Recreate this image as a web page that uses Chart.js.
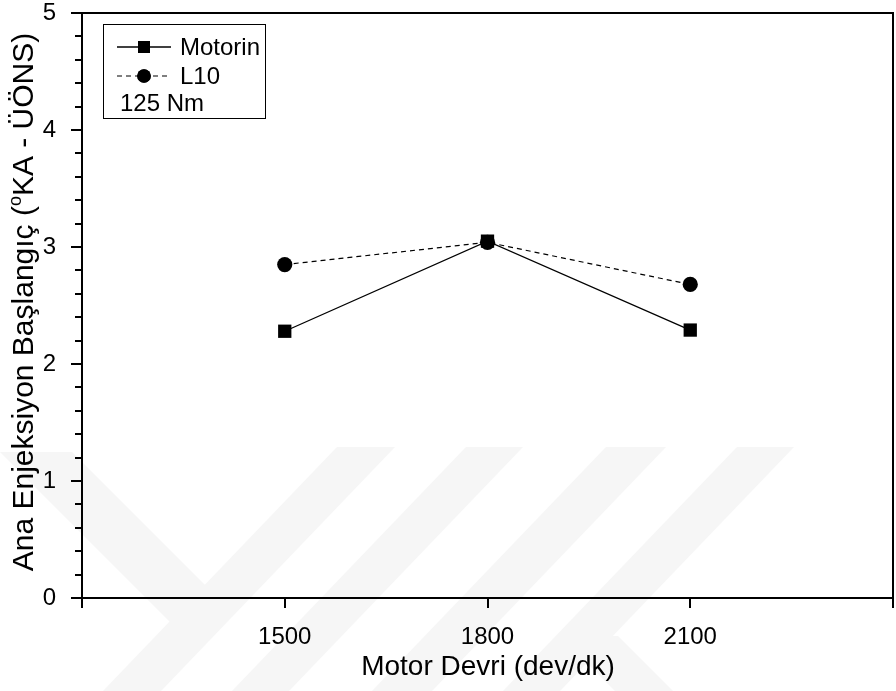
<!DOCTYPE html>
<html>
<head>
<meta charset="utf-8">
<script src="https://cdn.jsdelivr.net/npm/chart.js@4.4.1/dist/chart.umd.min.js"></script>
<style>
  html, body { margin: 0; padding: 0; background: #fff; }
  #wrap { width: 896px; height: 691px; }
</style>
</head>
<body>
<div id="wrap"><canvas id="enjeksiyon" width="896" height="691"></canvas></div>
<script>
// motor devri (dev/dk) ve ana enjeksiyon başlangıcı (°KA - ÜÖNS)
const devir = [1500, 1800, 2100];
const motorin = [2.28, 3.05, 2.29];
const l10 = [2.85, 3.04, 2.68];
const xEtiketleri = [1500, 1800, 2100];
const yEtiketleri = [0, 1, 2, 3, 4, 5];
const yukNotu = '125 Nm';

const FONT = '"Liberation Sans", Arial, sans-serif';

const noktalar = seri => devir.map((d, i) => ({ x: d, y: seri[i] }));

// arka plandaki soluk filigran şeritleri
const filigran = {
  id: 'filigran',
  beforeDraw(chart) {
    const ctx = chart.ctx;
    const sekiller = [
      [[0, 452], [72, 452], [205, 585], [199, 651]],
      [[337, 447], [395, 447], [161, 691], [103, 691]],
      [[466, 447], [523, 447], [289, 691], [232, 691]],
      [[606, 447], [666, 447], [432, 691], [372, 691]],
      [[737, 447], [794, 447], [560, 691], [503, 691]],
      [[560, 636], [618, 636], [673, 691], [615, 691]]
    ];
    ctx.save();
    ctx.fillStyle = '#fff';
    ctx.fillRect(0, 0, chart.width, chart.height);
    ctx.fillStyle = '#f6f6f6';
    sekiller.forEach(s => {
      ctx.beginPath();
      s.forEach(([px, py], i) => (i ? ctx.lineTo(px, py) : ctx.moveTo(px, py)));
      ctx.closePath();
      ctx.fill();
    });
    ctx.restore();
  }
};

// çerçeve, tik çizgileri, eksen başlıkları ve lejant kutusu
const cerceve = {
  id: 'cerceve',
  afterDraw(chart) {
    const { ctx, chartArea: a, scales: { x, y } } = chart;
    ctx.save();
    ctx.strokeStyle = '#000';
    ctx.lineWidth = 2;
    ctx.strokeRect(a.left, a.top, a.right - a.left, a.bottom - a.top);

    ctx.beginPath();
    y.ticks.forEach(t => {
      const py = Math.round(y.getPixelForValue(t.value));
      const ana = Math.abs(t.value - Math.round(t.value)) < 1e-6;
      ctx.moveTo(a.left, py);
      ctx.lineTo(a.left - (ana ? 11 : 7), py);
    });
    x.ticks.forEach(t => {
      const px = Math.round(x.getPixelForValue(t.value));
      ctx.moveTo(px, a.bottom);
      ctx.lineTo(px, a.bottom + 10);
    });
    ctx.stroke();

    // eksen başlıkları
    ctx.fillStyle = '#000';
    ctx.textAlign = 'center';
    ctx.textBaseline = 'middle';
    ctx.font = '28px ' + FONT;
    ctx.fillText('Motor Devri (dev/dk)', 488, 667);

    ctx.save();
    ctx.translate(22, 302);
    ctx.rotate(-Math.PI / 2);
    const b = 30;
    const parca1 = 'Ana Enjeksiyon Başlangıç (';
    const ust = 'o';
    const parca2 = 'KA - ÜÖNS)';
    ctx.font = b + 'px ' + FONT;
    const w1 = ctx.measureText(parca1).width;
    const w3 = ctx.measureText(parca2).width;
    ctx.font = Math.round(b * 0.6) + 'px ' + FONT;
    const w2 = ctx.measureText(ust).width;
    let sx = -(w1 + w2 + w3) / 2;
    ctx.textAlign = 'left';
    ctx.textBaseline = 'alphabetic';
    const taban = b * 0.36;
    ctx.font = b + 'px ' + FONT;
    ctx.fillText(parca1, sx, taban);
    sx += w1;
    ctx.font = Math.round(b * 0.6) + 'px ' + FONT;
    ctx.fillText(ust, sx, taban - b * 0.38);
    sx += w2;
    ctx.font = b + 'px ' + FONT;
    ctx.fillText(parca2, sx, taban);
    ctx.restore();

    // lejant
    ctx.lineWidth = 1;
    ctx.strokeRect(103.5, 24.5, 162, 94);
    ctx.font = '24px ' + FONT;
    ctx.textAlign = 'left';
    ctx.textBaseline = 'middle';
    chart.data.datasets.forEach((ds, i) => {
      const ly = 47 + i * 29;
      ctx.save();
      ctx.lineWidth = ds.borderWidth;
      ctx.setLineDash(ds.borderDash || []);
      ctx.beginPath();
      ctx.moveTo(117, ly);
      ctx.lineTo(171, ly);
      ctx.stroke();
      ctx.restore();
      ctx.fillStyle = '#000';
      Chart.helpers.drawPoint(ctx, { pointStyle: ds.pointStyle, radius: ds.pointRadius * 0.9, rotation: 0, borderWidth: 0 }, 144, ly);
      ctx.fill();
      ctx.fillText(ds.label, 180, ly + 1);
    });
    ctx.fillText(yukNotu, 120, 104);
    ctx.restore();
  }
};

new Chart(document.getElementById('enjeksiyon'), {
  type: 'line',
  data: {
    datasets: [
      {
        label: 'Motorin',
        data: noktalar(motorin),
        borderColor: '#000',
        backgroundColor: '#000',
        borderWidth: 1.3,
        pointStyle: 'rect',
        pointRadius: 9.4,
        pointBorderWidth: 0,
        tension: 0
      },
      {
        label: 'L10',
        data: noktalar(l10),
        borderColor: '#000',
        backgroundColor: '#000',
        borderWidth: 1.2,
        borderDash: [5, 4],
        pointStyle: 'circle',
        pointRadius: 7.6,
        pointBorderWidth: 0,
        tension: 0
      }
    ]
  },
  options: {
    responsive: false,
    animation: false,
    layout: { autoPadding: false, padding: { top: 13, right: 3, left: 0, bottom: 0 } },
    plugins: {
      legend: { display: false },
      tooltip: { enabled: false }
    },
    scales: {
      x: {
        type: 'linear',
        min: 1200,
        max: 2400,
        grid: { display: false },
        border: { display: false },
        ticks: {
          stepSize: 300,
          autoSkip: false,
          maxRotation: 0,
          padding: 17,
          color: '#000',
          font: { family: FONT, size: 24 },
          callback: v => (xEtiketleri.includes(v) ? String(v) : '')
        },
        afterFit: s => {
          s.height = 93;
          s.paddingLeft = 0;
          s.paddingRight = 0;
        }
      },
      y: {
        min: 0,
        max: 5,
        grid: { display: false },
        border: { display: false },
        ticks: {
          stepSize: 0.2,
          autoSkip: false,
          padding: 18,
          color: '#000',
          font: { family: FONT, size: 24 },
          callback: v => {
            const r = Math.round(v);
            return Math.abs(v - r) < 1e-6 && yEtiketleri.includes(r) ? String(r) : '';
          }
        },
        afterFit: s => {
          s.width = 82;
          s.paddingTop = 0;
          s.paddingBottom = 0;
        }
      }
    }
  },
  plugins: [filigran, cerceve]
});
</script>
</body>
</html>
